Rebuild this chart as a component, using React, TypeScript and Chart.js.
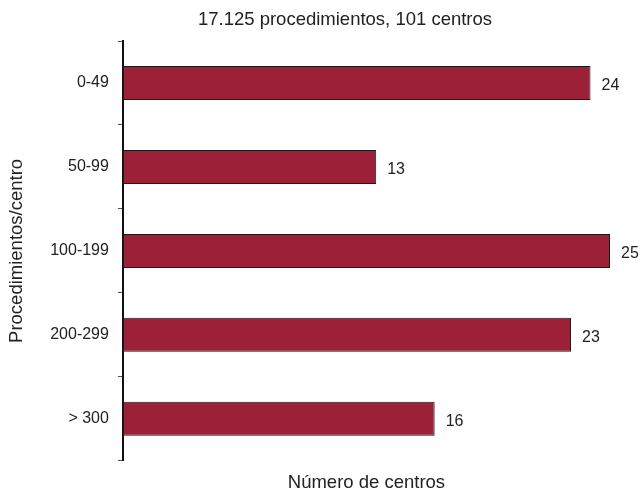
import React, { useEffect, useRef } from "react";
import { Chart, registerables } from "chart.js";

Chart.register(...registerables);

const categories = ["0-49", "50-99", "100-199", "200-299", "> 300"];
const centros = [24, 13, 25, 23, 16];
const chartTitle = "17.125 procedimientos, 101 centros";
const xTitle = "Número de centros";
const yTitle = "Procedimientos/centro";

const FONT = "'Liberation Sans', Arial, sans-serif";

const valueLabels = {
  id: "valueLabels",
  afterDatasetsDraw(chart: any) {
    const ctx = chart.ctx;
    const meta = chart.getDatasetMeta(0);
    ctx.save();
    ctx.font = "16px " + FONT;
    ctx.fillStyle = "#222";
    ctx.textAlign = "left";
    ctx.textBaseline = "middle";
    meta.data.forEach((el: any, i: number) => {
      ctx.fillText(String(centros[i]), el.x + 11, el.y + 3);
    });
    ctx.restore();
  },
};

const topTitle = {
  id: "topTitle",
  afterDraw(chart: any) {
    const ctx = chart.ctx;
    ctx.save();
    ctx.font = "18.5px " + FONT;
    ctx.fillStyle = "#222";
    ctx.textAlign = "center";
    ctx.textBaseline = "middle";
    ctx.fillText(chartTitle, 345, 20);
    ctx.restore();
  },
};

export default function App() {
  const ref = useRef<HTMLCanvasElement>(null);
  useEffect(() => {
    if (!ref.current) return;
    const chart = new Chart(ref.current, {
      type: "bar",
      data: {
        labels: categories,
        datasets: [
          {
            data: centros,
            backgroundColor: "#9b2038",
            borderColor: "#1a1a1a",
            borderWidth: 1,
            borderSkipped: false,
            categoryPercentage: 1,
            barPercentage: 0.405,
          },
        ],
      },
      options: {
        indexAxis: "y",
        animation: false,
        responsive: false,
        maintainAspectRatio: false,
        layout: { padding: { left: 0, right: 31, top: 41, bottom: -3 } },
        plugins: {
          legend: { display: false },
          tooltip: { enabled: false },
          title: { display: false },
        },
        scales: {
          x: {
            min: 0,
            max: 25,
            ticks: { display: false },
            grid: { display: false },
            border: { display: false },
            title: {
              display: true,
              text: xTitle,
              color: "#222",
              font: { family: FONT, size: 18.5 },
              padding: { top: 3, bottom: 0 },
            },
          },
          y: {
            grid: {
              offset: true,
              drawOnChartArea: false,
              drawTicks: true,
              tickLength: 5,
              color: "#555",
              lineWidth: 1,
            },
            border: { display: true, color: "#111", width: 2 },
            ticks: {
              color: "#222",
              padding: 9,
              font: { family: FONT, size: 16 },
            },
            title: {
              display: true,
              text: yTitle,
              color: "#222",
              font: { family: FONT, size: 18.5 },
              padding: { top: 6, bottom: 13 },
            },
          },
        },
      },
      plugins: [valueLabels, topTitle],
    });
    return () => chart.destroy();
  }, []);
  return (
    <div style={{ position: "absolute", left: 0, top: 0, width: 641, height: 491, background: "#fff" }}>
      <canvas ref={ref} width={641} height={491} />
    </div>
  );
}
